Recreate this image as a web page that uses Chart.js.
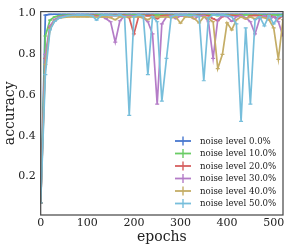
<!DOCTYPE html>
<html>
<head>
<meta charset="utf-8">
<script src="https://cdn.jsdelivr.net/npm/chart.js@4.4.1/dist/chart.umd.min.js"></script>
<style>
  html, body { margin: 0; padding: 0; background: #fff; }
  #wrap { width: 287px; height: 249px; }
</style>
</head>
<body>
<div id="wrap"><canvas id="accChart" width="287" height="249"></canvas></div>
<script>
// epochs (logged every 10)
const epochs = [
  0, 10, 20, 30, 40, 50, 60, 70, 80, 90,
  100, 110, 120, 130, 140, 150, 160, 170, 180, 190,
  200, 210, 220, 230, 240, 250, 260, 270, 280, 290,
  300, 310, 320, 330, 340, 350, 360, 370, 380, 390,
  400, 410, 420, 430, 440, 450, 460, 470, 480, 490,
  500, 510, 520
];
const xTicks = [0, 100, 200, 300, 400, 500];
const yTicks = [0.2, 0.4, 0.6, 0.8, 1.0];
const noiseLabels = ['noise level 0.0%', 'noise level 10.0%', 'noise level 20.0%',
                     'noise level 30.0%', 'noise level 40.0%', 'noise level 50.0%'];

const acc00 = [
  0.07, 0.993, 0.996, 0.997, 0.997, 0.997, 0.997, 0.997, 0.997, 0.997,
  0.997, 0.997, 0.997, 0.997, 0.997, 0.997, 0.997, 0.997, 0.997, 0.997,
  0.997, 0.997, 0.997, 0.997, 0.997, 0.997, 0.997, 0.997, 0.997, 0.997,
  0.997, 0.997, 0.997, 0.997, 0.997, 0.997, 0.997, 0.997, 0.997, 0.997,
  0.997, 0.997, 0.997, 0.997, 0.997, 0.997, 0.997, 0.997, 0.997, 0.997,
  0.997, 0.997, 0.997
];
const acc10 = [
  0.07, 0.89, 0.968, 0.984, 0.99, 0.992, 0.993, 0.993, 0.994, 0.993,
  0.994, 0.993, 0.994, 0.994, 0.993, 0.994, 0.992, 0.994, 0.994, 0.993,
  0.994, 0.993, 0.994, 0.99, 0.994, 0.993, 0.994, 0.994, 0.993, 0.994,
  0.994, 0.993, 0.994, 0.994, 0.992, 0.994, 0.993, 0.994, 0.99, 0.994,
  0.993, 0.994, 0.994, 0.993, 0.994, 0.994, 0.993, 0.994, 0.992, 0.994,
  0.994, 0.993, 0.994
];
const acc20 = [
  0.07, 0.78, 0.93, 0.968, 0.982, 0.988, 0.99, 0.991, 0.99, 0.991,
  0.99, 0.991, 0.99, 0.985, 0.991, 0.99, 0.991, 0.99, 0.991, 0.98,
  0.90, 0.985, 0.991, 0.99, 0.991, 0.975, 0.99, 0.991, 0.99, 0.991,
  0.99, 0.991, 0.985, 0.991, 0.99, 0.991, 0.99, 0.975, 0.965, 0.985,
  0.99, 0.991, 0.99, 0.991, 0.975, 0.99, 0.991, 0.99, 0.985, 0.991,
  0.985, 0.975, 0.99
];
const acc30 = [
  0.07, 0.80, 0.94, 0.972, 0.983, 0.987, 0.988, 0.99, 0.989, 0.99,
  0.989, 0.99, 0.985, 0.99, 0.975, 0.96, 0.86, 0.965, 0.988, 0.99,
  0.989, 0.99, 0.98, 0.96, 0.90, 0.555, 0.95, 0.985, 0.99, 0.975,
  0.989, 0.99, 0.985, 0.975, 0.989, 0.99, 0.96, 0.78, 0.97, 0.99,
  0.985, 0.962, 0.985, 0.99, 0.98, 0.96, 0.90, 0.975, 0.99, 0.97,
  0.985, 0.96, 0.89
];
const acc40 = [
  0.07, 0.75, 0.925, 0.965, 0.978, 0.982, 0.984, 0.985, 0.984, 0.985,
  0.984, 0.985, 0.984, 0.985, 0.984, 0.98, 0.97, 0.984, 0.985, 0.984,
  0.985, 0.984, 0.98, 0.97, 0.984, 0.985, 0.984, 0.985, 0.98, 0.984,
  0.953, 0.984, 0.985, 0.975, 0.955, 0.984, 0.975, 0.96, 0.73, 0.80,
  0.955, 0.92, 0.97, 0.984, 0.975, 0.984, 0.975, 0.985, 0.98, 0.97,
  0.93, 0.775, 0.97
];
const acc50 = [
  0.07, 0.70, 0.92, 0.962, 0.978, 0.985, 0.99, 0.992, 0.993, 0.993,
  0.992, 0.99, 0.968, 0.992, 0.993, 0.992, 0.99, 0.993, 0.985, 0.50,
  0.985, 0.993, 0.99, 0.70, 0.985, 0.96, 0.57, 0.78, 0.985, 0.993,
  0.992, 0.993, 0.99, 0.992, 0.985, 0.67, 0.98, 0.993, 0.992, 0.993,
  0.99, 0.985, 0.95, 0.47, 0.93, 0.555, 0.97, 0.985, 0.94, 0.99,
  0.95, 0.985, 0.99
];

const series = [acc00, acc10, acc20, acc30, acc40, acc50];
const colors = ['#4878CF', '#6ACC65', '#D65F5F', '#B47CC7', '#C4AD66', '#77BEDB'];
const SERIF = '"DejaVu Serif", serif';

const datasets = series.map((vals, i) => ({
  label: noiseLabels[i],
  data: epochs.map((e, j) => ({ x: e, y: vals[j] })),
  borderColor: colors[i],
  backgroundColor: colors[i],
  borderWidth: 1.7,
  tension: 0,
  fill: false,
  pointStyle: 'line',
  pointRadius: 2,
  pointBorderWidth: 1.2,
  pointBorderColor: colors[i],
  pointHoverRadius: 0,
  order: series.length - 1 - i
}));

// axes frame + legend inside the plot (lower right)
const framePlugin = {
  id: 'frameLegend',
  afterDatasetsDraw(chart) {
    const { ctx, chartArea: a } = chart;
    ctx.save();
    ctx.strokeStyle = '#444';
    ctx.lineWidth = 1.2;
    ctx.strokeRect(a.left, a.top, a.right - a.left, a.bottom - a.top);

    ctx.font = '8.6px ' + SERIF;
    ctx.textBaseline = 'middle';
    ctx.textAlign = 'left';
    noiseLabels.forEach((txt, i) => {
      const y = 141 + i * 12.5;
      ctx.strokeStyle = colors[i];
      ctx.lineWidth = 1.8;
      ctx.beginPath();
      ctx.moveTo(175, y); ctx.lineTo(191, y);
      ctx.stroke();
      ctx.lineWidth = 1.4;
      ctx.beginPath();
      ctx.moveTo(183, y - 4.5); ctx.lineTo(183, y + 4.5);
      ctx.stroke();
      ctx.fillStyle = '#222';
      ctx.fillText(txt, 200, y + 0.5);
    });
    ctx.restore();
  }
};

new Chart(document.getElementById('accChart'), {
  type: 'line',
  data: { datasets },
  options: {
    responsive: false,
    animation: false,
    devicePixelRatio: 1,
    layout: { padding: { top: 7, right: 4, left: 0, bottom: 0 } },
    plugins: { legend: { display: false }, tooltip: { enabled: false } },
    scales: {
      x: {
        type: 'linear',
        min: 0,
        max: 520,
        afterBuildTicks: s => { s.ticks = xTicks.map(v => ({ value: v })); },
        afterFit: s => { s.height = 34; },
        ticks: { color: '#222', font: { family: SERIF, size: 11 }, padding: 2, maxRotation: 0 },
        grid: { display: false, drawTicks: false },
        border: { display: false },
        title: { display: true, text: 'epochs', color: '#222', font: { family: SERIF, size: 14 },
                 padding: { top: 0, bottom: 3 } }
      },
      y: {
        min: 0.01,
        max: 1.01,
        afterBuildTicks: s => { s.ticks = yTicks.map(v => ({ value: v })); },
        afterFit: s => { s.width = 40.7; },
        ticks: { color: '#222', font: { family: SERIF, size: 11 }, padding: 5,
                 callback: v => v.toFixed(1) },
        grid: { display: false, drawTicks: false },
        border: { display: false },
        title: { display: true, text: 'accuracy', color: '#222', font: { family: SERIF, size: 14 },
                 padding: { top: 2, bottom: 0 } }
      }
    }
  },
  plugins: [framePlugin]
});
</script>
</body>
</html>
